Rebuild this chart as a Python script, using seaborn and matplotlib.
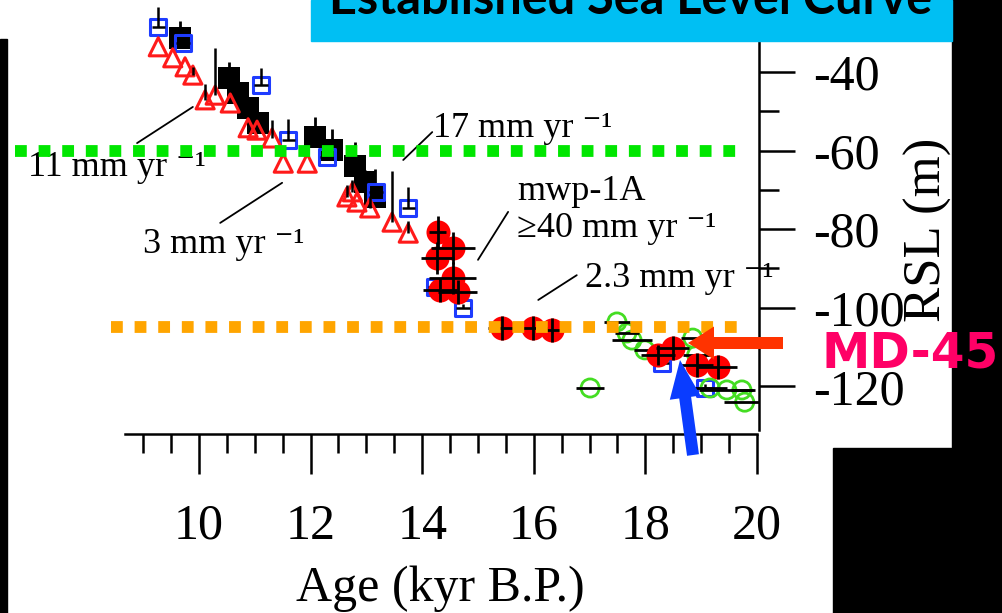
"""
Established sea level curve (RSL vs age) with MD-45 marker.
"""

import matplotlib
matplotlib.use("Agg")
import matplotlib.pyplot as plt
from matplotlib.patches import Rectangle, FancyArrow
import numpy as np
import pandas as pd
import seaborn as sns


# ---- data (age in kyr B.P., RSL in m) ----
black_age = [9.66, 10.54, 10.70, 10.88, 11.06, 12.08, 12.38, 12.80, 12.97, 13.15]
black_rsl = [-31.3, -41.5, -45.3, -49.2, -53.0, -56.5, -59.8, -63.9, -68.0, -71.8]
black_up = [4.3, 4.0, 3.0, 2.5, 2.0, 5.0, 5.3, 6.0, 3.0, 7.0]

blue_age = [9.27, 9.71, 11.11, 11.60, 12.29, 13.17, 13.75, 14.23, 14.73, 18.30, 19.07]
blue_rsl = [-28.5, -32.6, -43.3, -57.3, -61.6, -70.5, -74.6, -94.7, -100.0, -114.0, -120.4]
blue_up = [5.0, 1.0, 4.3, 5.3, 1.0, 1.0, 5.3, 1.0, 1.0, 1.0, 1.0]

tri_age = [9.27, 9.53, 9.75, 9.89, 10.11, 10.29, 10.56, 10.88, 11.04, 11.31,
           11.51, 11.94, 12.65, 12.75, 12.83, 13.06, 13.46, 13.75]
tri_rsl = [-33.6, -36.4, -38.7, -40.8, -47.1, -45.9, -47.9, -54.2, -54.8, -56.8,
           -63.2, -63.2, -71.8, -70.5, -73.1, -74.6, -78.2, -81.0]
tri_up = [0, 0, 0, 2.0, 4.0, 12.0, 0, 0, 0, 4.5,
          0, 0, 3.0, 3.0, 0, 3.0, 13.0, 3.0]

sunda_age = [14.28, 14.55, 14.27, 14.55, 14.32, 14.64, 15.43, 15.99, 16.33,
             18.23, 18.49, 18.92, 19.30]
sunda_rsl = [-80.7, -84.8, -87.3, -92.4, -95.5, -96.0, -105.1, -105.1, -105.6,
             -112.0, -110.2, -114.6, -115.0]
sunda_xerr = [0.15, 0.40, 0.30, 0.42, 0.30, 0.35, 0.25, 0.25, 0.25,
              0.30, 0.30, 0.30, 0.35]
sunda_yerr = [4, 4, 4, 4, 3, 3, 3, 3, 3, 2.5, 3, 3, 3]

green_age = [17.01, 17.49, 17.67, 17.76, 17.99, 18.85, 18.92, 19.16, 19.46, 19.73, 19.78]
green_rsl = [-120.4, -103.6, -106.4, -108.2, -110.7, -107.7, -112.0, -120.4, -120.9, -120.9, -124.0]
green_xerr = [0.25, 0.24, 0.22, 0.35, 0.20, 0.21, 0.24, 0.30, 0.50, 0.20, 0.38]

green_level = -60
orange_level = -105

x_major = [10, 12, 14, 16, 18, 20]
y_major = [-120, -100, -80, -60, -40]

# ---- style ----
sns.set_theme(style="white")
plt.rcParams["font.family"] = ["Liberation Serif", "DejaVu Serif"]
plt.rcParams["axes.unicode_minus"] = False

W, H = 1003, 613
fig = plt.figure(figsize=(W / 100, H / 100), dpi=100)
fig.patch.set_facecolor("white")
ax = fig.add_axes([125 / W, (H - 434) / H, 634 / W, 434 / H])
ax.patch.set_alpha(0)

# ---- data marks ----
sns.scatterplot(x=black_age, y=black_rsl, marker="s", s=270, color="black",
                linewidth=0, ax=ax, zorder=1, legend=False)
ax.errorbar(black_age, black_rsl, yerr=[np.zeros(len(black_up)), black_up],
            fmt="none", ecolor="black", elinewidth=2, zorder=1)

sns.scatterplot(x=blue_age, y=blue_rsl, marker="s", s=140, ax=ax, zorder=2, legend=False)
pts = ax.collections[-1]
pts.set_facecolor("none")
pts.set_edgecolor("#1E3CFF")
pts.set_linewidth(2.2)
ax.errorbar(blue_age, blue_rsl, xerr=0.12, yerr=[np.zeros(len(blue_up)), blue_up],
            fmt="none", ecolor="black", elinewidth=1.8, zorder=2)

sns.scatterplot(x=tri_age, y=tri_rsl, marker="^", s=170, ax=ax, zorder=3, legend=False)
pts = ax.collections[-1]
pts.set_facecolor("none")
pts.set_edgecolor("#FF1A1A")
pts.set_linewidth(2.2)
ax.errorbar(tri_age, tri_rsl, yerr=[np.zeros(len(tri_up)), tri_up],
            fmt="none", ecolor="black", elinewidth=1.8, zorder=3)

sns.scatterplot(x=green_age, y=green_rsl, marker="o", s=170, ax=ax, zorder=4, legend=False)
pts = ax.collections[-1]
pts.set_facecolor("none")
pts.set_edgecolor("#44DD22")
pts.set_linewidth(2.0)
ax.errorbar(green_age, green_rsl, xerr=green_xerr, fmt="none", ecolor="black",
            elinewidth=2, zorder=4)

sns.scatterplot(x=sunda_age, y=sunda_rsl, marker="o", s=300, color="#FF0000",
                linewidth=0, ax=ax, zorder=5, legend=False)
ax.errorbar(sunda_age, sunda_rsl, xerr=sunda_xerr, yerr=sunda_yerr, fmt="none",
            ecolor="black", elinewidth=2, zorder=6)

# reference levels
ax.hlines(green_level, 6.70, 19.80, colors="#00E600", linewidth=8.5,
          linestyles=(0, (1, 1)), zorder=7, clip_on=False)
ax.hlines(orange_level, 8.42, 19.82, colors="#FFA500", linewidth=8.5,
          linestyles=(0, (1, 1)), zorder=7, clip_on=False)

# ---- rate annotations ----
ann = dict(fontsize=26, ha="left", va="baseline", color="black", clip_on=False)
ax.text(6.94, -66.5, "11 mm yr ⁻¹", **ann)
ax.text(9.00, -86.1, "3 mm yr ⁻¹", **ann)
ax.text(14.19, -56.5, "17 mm yr ⁻¹", **ann)
ax.text(15.70, -72.6, "mwp-1A", **ann)
ax.text(15.70, -82.0, "≥40 mm yr ⁻¹", **ann)
ax.text(16.92, -94.7, "2.3 mm yr ⁻¹", **ann)
leaders = [((8.89, -58.1), (9.89, -48.9)),
           ((10.38, -78.4), (11.49, -68.2)),
           ((13.66, -62.4), (14.18, -55.3)),
           ((15.00, -87.8), (15.54, -75.6)),
           ((16.08, -98.0), (16.77, -91.7))]
for p0, p1 in leaders:
    ax.annotate("", xy=p1, xytext=p0, annotation_clip=False,
                arrowprops=dict(arrowstyle="-", lw=1.3, color="black",
                                shrinkA=0, shrinkB=0))

# ---- axes ----
ax.set_xlim(8.674, 20.036)
ax.set_ylim(-132.1, -21.7)
for side in ["left", "top"]:
    ax.spines[side].set_visible(False)
for side in ["bottom", "right"]:
    ax.spines[side].set_color("black")
    ax.spines[side].set_linewidth(1.8)
ax.spines["bottom"].set_bounds(8.674, 20.0)
ax.spines["right"].set_bounds(-131.1, -21.7)

ax.set_xticks(x_major)
ax.set_xticks([v for v in np.arange(9, 20, 0.5) if v not in x_major], minor=True)
ax.yaxis.tick_right()
ax.set_yticks(y_major)
ax.set_yticks([-110, -90, -70, -50, -30], minor=True)

ax.tick_params(axis="x", which="major", bottom=True, direction="out", length=28.8,
               width=1.8, pad=21, labelsize=36, color="black", labelcolor="black")
ax.tick_params(axis="x", which="minor", bottom=True, direction="out", length=13.7,
               width=1.8, color="black")
ax.tick_params(axis="y", which="major", right=True, left=False, labelright=True,
               labelleft=False, direction="out", length=26, width=1.8, pad=13,
               labelsize=36, color="black", labelcolor="black")
ax.tick_params(axis="y", which="minor", right=True, left=False, direction="out",
               length=14.4, width=1.8, color="black")

ax.set_xlabel("Age (kyr B.P.)", fontsize=36, color="black")
ax.xaxis.set_label_coords(0.497, -0.385)
ax.xaxis.label.set_va("baseline")
ax.set_ylabel("RSL (m)", fontsize=38, color="black")
ax.yaxis.set_label_position("right")
ax.yaxis.set_label_coords(1.266, 0.47)
ax.yaxis.label.set(rotation=90, va="center", ha="center", rotation_mode="default")

# ---- slide overlay (pixel coordinates) ----
ov = fig.add_axes([0, 0, 1, 1], zorder=10)
ov.set_xlim(0, W)
ov.set_ylim(H, 0)
ov.axis("off")
ov.add_patch(Rectangle((0, 39), 7, H - 39, color="black"))
ov.add_patch(Rectangle((952, 0), W - 952, 448, color="black"))
ov.add_patch(Rectangle((833, 448), W - 833, H - 448, color="black"))
ov.add_patch(Rectangle((311, 0), 641, 41, color="#00BFF3"))
ov.text(631, 14, "Established Sea Level Curve", ha="center", va="baseline",
        fontsize=35, fontweight="bold", family="Lato", color="black")
ov.text(822, 368, "MD-45", ha="left", va="baseline", fontsize=35,
        fontweight="bold", family="DejaVu Sans", color="#FF0066")
ov.add_patch(FancyArrow(783, 343, -95, 0, width=12, head_width=33, head_length=26,
                        length_includes_head=True, color="#FF3300", linewidth=0))
ov.add_patch(FancyArrow(693, 455, -13, -95, width=12, head_width=31, head_length=38,
                        length_includes_head=True, color="#0A3CFF", linewidth=0))

fig.savefig("out.png", dpi=100)
